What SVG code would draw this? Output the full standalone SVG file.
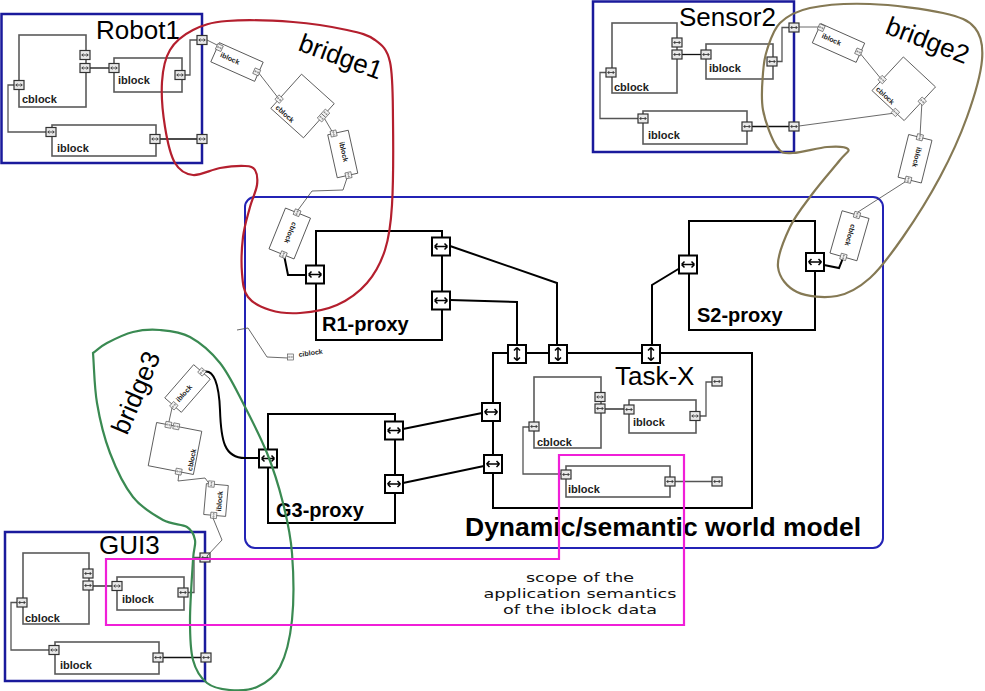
<svg xmlns="http://www.w3.org/2000/svg" xmlns:xlink="http://www.w3.org/1999/xlink" width="985" height="691" viewBox="0 0 985 691">
<style>
.sys{fill:none;stroke:#1a1a9c;stroke-width:2.5}
.blk{fill:none;stroke:#5a5a5a;stroke-width:1.6}
.prx{fill:#fff;stroke:#000;stroke-width:2}
.tb{fill:#fff;stroke:#444;stroke-width:0.8}
.gl{fill:none;stroke:#555;stroke-width:1.3}
.bl{fill:none;stroke:#111;stroke-width:1.3}
.tl{fill:none;stroke:#444;stroke-width:0.8}
.thick{fill:none;stroke:#000;stroke-width:2}
.big{font-family:"Liberation Sans",Arial,sans-serif;font-size:26px;fill:#000}
.lbl{font-family:"Liberation Sans",Arial,sans-serif;font-weight:bold;font-size:11px;fill:#222}
.plbl{font-family:"Liberation Sans",Arial,sans-serif;font-weight:bold;font-size:20px;fill:#000}
.tiny{font-family:"Liberation Sans",Arial,sans-serif;font-weight:bold;font-size:7px;fill:#222}
.scope{font-family:"DejaVu Sans",sans-serif;font-size:13px;fill:#111;text-anchor:middle}
</style>
<defs>
<g id="sp"><rect x="-5" y="-4.5" width="10" height="9" fill="#e8e8e8" stroke="#333" stroke-width="1.2"/><path d="M-3.2,0H3.2M-3.2,0l1.5,-1.5M-3.2,0l1.5,1.5M3.2,0l-1.5,-1.5M3.2,0l-1.5,1.5" stroke="#222" stroke-width="0.8" fill="none"/></g>
<g id="bp"><rect x="-9" y="-9" width="18" height="18" fill="#fff" stroke="#000" stroke-width="2"/><path d="M-6.5,0H6.5M-6.5,0l3,-3M-6.5,0l3,3M6.5,0l-3,-3M6.5,0l-3,3" stroke="#000" stroke-width="1.5" fill="none"/></g>
<g id="tp"><rect x="-3" y="-3" width="6" height="6" fill="#f4f4f4" stroke="#444" stroke-width="0.6"/><path d="M-2,0H2M-2,0l1,-1M-2,0l1,1M2,0l-1,-1M2,0l-1,1" stroke="#444" stroke-width="0.4" fill="none"/></g>
</defs>
<rect width="985" height="691" fill="#fff"/>

<g id="world-model">
<rect x="245" y="197" width="638" height="351" rx="10" fill="none" stroke="#2323b5" stroke-width="2"/>
<text x="465" y="536" font-family="'Liberation Sans',Arial,sans-serif" font-weight="bold" font-size="25" textLength="396" lengthAdjust="spacingAndGlyphs">Dynamic/semantic world model</text>
</g>

<g id="robot1">
<rect class="sys" x="1.5" y="14" width="200.5" height="149"/>
<text class="big" x="96" y="39">Robot1</text>
<rect class="blk" x="19" y="35" width="67" height="72"/>
<text class="lbl" x="22" y="103">cblock</text>
<rect class="blk" x="114" y="58" width="68" height="34"/>
<text class="lbl" x="118" y="84">iblock</text>
<rect class="blk" x="52" y="125" width="104" height="31"/>
<text class="lbl" x="57" y="152">iblock</text>
<path class="bl" d="M90,68H109"/>
<path class="gl" d="M185,75H190V40H197"/>
<path class="gl" d="M14,85H8V132H46"/>
<path class="bl" d="M160,139H197"/>
<use href="#sp" x="85" y="55"/><use href="#sp" x="85" y="68"/><use href="#sp" x="19" y="85"/>
<use href="#sp" x="114" y="68"/><use href="#sp" x="180" y="75"/>
<use href="#sp" x="51" y="132"/><use href="#sp" x="155" y="139"/>
<use href="#sp" x="202" y="40"/><use href="#sp" x="202" y="139"/>
</g>

<g id="sensor2">
<rect class="sys" x="593" y="1.5" width="201" height="150.5"/>
<text class="big" x="679" y="26">Sensor2</text>
<rect class="blk" x="612" y="23" width="65" height="70"/>
<text class="lbl" x="614" y="91">cblock</text>
<rect class="blk" x="706" y="44" width="67" height="35"/>
<text class="lbl" x="709" y="72">iblock</text>
<rect class="blk" x="643" y="111" width="104" height="33"/>
<text class="lbl" x="648" y="139">iblock</text>
<path class="bl" d="M682,54.5H701"/>
<path class="gl" d="M777,61.5H782V27.5H789"/>
<path class="gl" d="M606,72.5H600V118.5H638"/>
<path class="bl" d="M752,126.5H789"/>
<use href="#sp" x="677" y="42.5"/><use href="#sp" x="677" y="54.5"/><use href="#sp" x="611" y="72.5"/>
<use href="#sp" x="706" y="54.5"/><use href="#sp" x="772" y="61.5"/>
<use href="#sp" x="643" y="118.5"/><use href="#sp" x="747" y="126.5"/>
<use href="#sp" x="794" y="27.5"/><use href="#sp" x="794" y="126.5"/>
</g>

<g id="gui3">
<rect class="sys" x="5" y="532" width="200" height="149"/>
<text class="big" x="99" y="554">GUI3</text>
<rect class="blk" x="23" y="553" width="66" height="71"/>
<text class="lbl" x="25" y="622">cblock</text>
<rect class="blk" x="117" y="577" width="67" height="33"/>
<text class="lbl" x="122" y="603">iblock</text>
<rect class="blk" x="55" y="642" width="104" height="32"/>
<text class="lbl" x="60" y="669">iblock</text>
<path class="bl" d="M93,586H112"/>
<path class="gl" d="M188,592.5H194V557.5H200"/>
<path class="gl" d="M17,602.5H11V650H49"/>
<path class="bl" d="M163,657.5H201"/>
<use href="#sp" x="88" y="573.5"/><use href="#sp" x="88" y="585.5"/><use href="#sp" x="22" y="602.5"/>
<use href="#sp" x="117" y="586"/><use href="#sp" x="183" y="592.5"/>
<use href="#sp" x="54" y="650"/><use href="#sp" x="158" y="657.5"/>
<use href="#sp" x="205" y="557.5"/><use href="#sp" x="206" y="657.5"/>
</g>

<g id="task-x">
<rect class="prx" x="493" y="353" width="259" height="155"/>
<text class="big" x="615" y="385">Task-X</text>
<rect class="blk" x="534" y="377" width="67" height="71"/>
<text class="lbl" x="537" y="446">cblock</text>
<rect class="blk" x="629" y="400" width="67" height="33"/>
<text class="lbl" x="633" y="426">iblock</text>
<rect class="blk" x="566" y="466" width="104" height="31"/>
<text class="lbl" x="568" y="493">iblock</text>
<path class="bl" d="M605,409H624"/>
<path class="gl" d="M700,416H706V382H712"/>
<path class="gl" d="M529,427H523V474H561"/>
<path class="gl" d="M675,481.5H712"/>
<use href="#sp" x="600" y="397"/><use href="#sp" x="600" y="408.5"/><use href="#sp" x="534" y="426.5"/>
<use href="#sp" x="629" y="409.5"/><use href="#sp" x="695" y="416"/>
<use href="#sp" x="566" y="474.5"/><use href="#sp" x="670" y="481.5"/>
<use href="#sp" x="717" y="381.5"/><use href="#sp" x="717" y="481.5"/>
</g>

<g id="r1-proxy">
<rect class="prx" x="316" y="231" width="126" height="109"/>
<text class="plbl" x="322" y="331">R1-proxy</text>
</g>
<g id="s2-proxy">
<rect class="prx" x="689" y="221" width="126" height="109"/>
<text class="plbl" x="697" y="322">S2-proxy</text>
</g>
<g id="g3-proxy">
<rect class="prx" x="268" y="414" width="127" height="109"/>
<text class="plbl" x="276" y="517">G3-proxy</text>
</g>

<g id="connectors">
<path class="thick" d="M450,246L557,283V345"/>
<path class="thick" d="M450,300L517,302V345"/>
<path class="thick" d="M680,268L652,285V345"/>
<path class="thick" d="M824,265L839,268L843,258"/>
<path class="thick" d="M403,429L482,413"/>
<path class="thick" d="M403,483L484,466"/>
<path class="thick" d="M284,255L288,275H306"/>
<path class="thick" d="M203,372C214,368 219,385 220,410C221,440 224,458 245,458H259"/>
<path class="tl" d="M207,40L219,46"/>
<path class="tl" d="M258,72L279,99"/>
<path class="tl" d="M323,116L333,133"/>
<path class="tl" d="M348,175L343,190L312,191L298,210"/>
<path class="tl" d="M799,27L822,27"/>
<path class="tl" d="M799,126L895,113"/>
<path class="tl" d="M859,52L882,80"/>
<path class="tl" d="M922,101L920,136"/>
<path class="tl" d="M908,180L858,212"/>
<path class="tl" d="M172,408L168,426"/>
<path class="tl" d="M179,473L178,481L205,478L211,486"/>
<path class="tl" d="M213,518L222,540L207,556"/>
<use href="#bp" x="441" y="246.5"/><use href="#bp" x="441" y="300.5"/><use href="#bp" x="315" y="274.5"/>
<use href="#bp" x="688" y="264.5"/><use href="#bp" x="815" y="262"/>
<use href="#bp" x="268" y="458.5"/><use href="#bp" x="394" y="430.5"/><use href="#bp" x="394" y="484"/>
<use href="#bp" x="491" y="412"/><use href="#bp" x="493" y="464"/>
<use href="#bp" transform="translate(517,354) rotate(90)"/>
<use href="#bp" transform="translate(558,354) rotate(90)"/>
<use href="#bp" transform="translate(651,354) rotate(90)"/>
</g>

<g id="ciblock-stub">
<path class="tl" d="M237,330L248,328L267,357L288,358"/>
<use href="#tp" x="290.5" y="357"/>
<text class="tiny" transform="translate(299,357) rotate(-8)">ciblock</text>
</g>

<g id="bridge1">
<path d="M170,50 C175.2,41.3 183.5,34.8 193,30 S210.3,22.3 227,21 S273,20.5 293,22 S333.3,27 347,30 S367.8,34.7 375,40 S387,48.7 390,62 S392.7,96.2 393,120 S393.3,183.3 392,205 S389.2,237 385,250 S375,273.8 367,283 S348.2,300 337,305 S311.2,312.2 300,313 S278.7,312.7 270,310 S252.7,303.2 248,297 S242.8,283 242,273 S241.7,248 243,237 S247.7,215.7 250,207 S256.2,191.2 257,185 S257,173.2 255,170 S250.8,166.3 245,166 S228.7,166.5 220,168 S200.5,175.8 193,175 S179.7,171 175,163 S167.2,140.5 165,127 S161.2,94.8 162,82 S164.8,58.7 170,50 Z" fill="none" stroke="#b41f2e" stroke-width="2.2"/>
<text class="big" transform="translate(297,50) rotate(20)">bridge1</text>
<g transform="translate(237,62) rotate(24)"><rect class="tb" x="-24" y="-10.5" width="48" height="21"/><text class="tiny" x="-18" y="2">iblock</text><use href="#tp" x="-22" y="-6"/><use href="#tp" x="22" y="1"/></g>
<g transform="translate(302.5,106) rotate(42)"><rect class="tb" x="-22" y="-23" width="44" height="46"/><text class="tiny" x="-19" y="20">cblock</text><use href="#tp" x="-22" y="10.5"/><use href="#tp" x="22" y="-10"/><use href="#tp" x="22" y="-4"/></g>
<g transform="translate(342.75,154) rotate(77.5)"><rect class="tb" x="-22" y="-10.5" width="44" height="21"/><text class="tiny" x="-12" y="1">iblock</text><use href="#tp" x="-22" y="4.5"/><use href="#tp" x="22" y="-1"/></g>
<g transform="translate(289.75,233.5) rotate(112)"><rect class="tb" x="-22" y="-13.5" width="44" height="27"/><text class="tiny" x="-12" y="2">cblock</text><use href="#tp" x="-22" y="1"/><use href="#tp" x="22" y="-2"/></g>
</g>

<g id="bridge2">
<path d="M767,50 C769.8,41.7 772.8,30 780,23 S795,11.2 810,8 S847.8,3.2 870,4 S925.5,9 943,13 S968.5,20.2 975,28 S983.3,45.2 982,60 S974,97.5 967,117 S950.7,157 940,177 S914.7,220.2 903,237 S881,268.2 870,278 S849.2,293.7 837,296 S806.8,296.8 797,292 S779.2,277.8 778,267 S784.2,239.3 790,227 S804.7,204.2 813,193 S834.2,167.3 840,160 S850.2,151.2 848,149 S836.2,146.3 827,147 S801.3,153 793,153 S782,154.2 777,147 S765.3,122.3 763,110 S762.3,83 763,73 S764.2,58.3 767,50 Z" fill="none" stroke="#857954" stroke-width="2.2"/>
<text class="big" transform="translate(884,33) rotate(21)">bridge2</text>
<g transform="translate(838.5,43) rotate(24)"><rect class="tb" x="-24" y="-10.5" width="48" height="21"/><text class="tiny" x="-18" y="2">iblock</text><use href="#tp" x="-22" y="-7"/><use href="#tp" x="22" y="0"/></g>
<g transform="translate(903.75,88.75) rotate(43)"><rect class="tb" x="-22" y="-23" width="44" height="46"/><text class="tiny" x="-20" y="20">cblock</text><use href="#tp" x="-22" y="8"/><use href="#tp" x="10" y="23"/><use href="#tp" x="22" y="-3.5"/></g>
<g transform="translate(915,158.75) rotate(104)"><rect class="tb" x="-22" y="-12" width="44" height="24"/><text class="tiny" x="-12" y="1">iblock</text><use href="#tp" x="-22" y="0.5"/><use href="#tp" x="22" y="1.5"/></g>
<g transform="translate(849.5,235.75) rotate(106)"><rect class="tb" x="-22" y="-14" width="44" height="28"/><text class="tiny" x="-12" y="2">cblock</text><use href="#tp" x="-22" y="-1.5"/><use href="#tp" x="22" y="0"/></g>
</g>

<g id="bridge3">
<path d="M93,353 C97.7,349.7 100.3,346.5 107,343 S124.2,334.2 133,332 S150.5,329.2 160,330 S180,331.5 190,337 S211.2,352 220,363 S235.2,388 243,403 S260.3,436.3 267,453 S278.8,486.3 283,503 S290.5,533.5 292,553 S294,601 292,620 S285.8,655.8 280,667 S265.3,683.2 257,687 S238.3,690.7 230,690 S213.2,688 207,683 S195.8,670.5 193,660 S190,636.7 190,620 S192.2,573.3 193,560 S196,545.5 195,540 S192.3,530.3 187,527 S172,525 163,520 S141.8,508.2 133,497 S116,468.7 110,453 S99.8,419.7 97,403 S94.3,369.7 93,353 Z" fill="none" stroke="#3a8a52" stroke-width="2.2"/>
<text class="big" transform="translate(127,436) rotate(-67)">bridge3</text>
<g transform="translate(187.5,388.5) rotate(-49)"><rect class="tb" x="-22" y="-11" width="44" height="22"/><text class="tiny" x="-16" y="3">iblock</text><use href="#tp" x="-22" y="1"/><use href="#tp" x="22" y="0"/></g>
<g transform="translate(175,448.5) rotate(11)"><rect class="tb" x="-23" y="-22" width="46" height="44"/><text class="tiny" transform="translate(21,19) rotate(-90)">cblock</text><use href="#tp" x="-11" y="-22"/><use href="#tp" x="-3" y="-22"/><use href="#tp" x="8" y="22"/></g>
<g transform="translate(216,500) rotate(-85)"><rect class="tb" x="-15.5" y="-11" width="31" height="22"/><text class="tiny" x="-11" y="6">iblock</text><use href="#tp" x="15.5" y="-6"/><use href="#tp" x="-15.5" y="-1"/></g>
</g>

<g id="scope">
<path d="M559,455H684V625H106V559H559Z" fill="none" stroke="#f01fd8" stroke-width="2.2"/>
<text class="scope" x="580" y="582" textLength="108" lengthAdjust="spacingAndGlyphs">scope of the</text>
<text class="scope" x="580" y="598" textLength="193" lengthAdjust="spacingAndGlyphs">application semantics</text>
<text class="scope" x="580" y="614" textLength="154" lengthAdjust="spacingAndGlyphs">of the iblock data</text>
</g>
</svg>
